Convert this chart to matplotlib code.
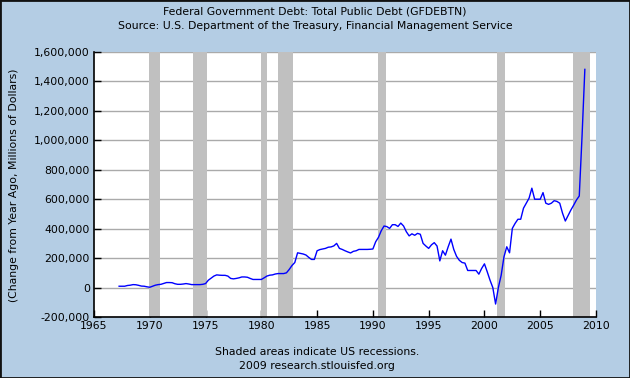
#!/usr/bin/env python3
"""FRED-style chart: change from year ago in total public debt (GFDEBTN)."""

import matplotlib
matplotlib.use("Agg")
import matplotlib.pyplot as plt
from matplotlib.patches import Rectangle
from matplotlib.ticker import FuncFormatter
import numpy as np

# Quarterly change from year ago, billions of dollars,
# first value 1967 Q2, last 2009 Q1
first_quarter = 1967.25
change_bn = [
    9, 9, 9,                       # 1967
    14, 16, 20, 19,                # 1968
    15, 10, 9, 5,                  # 1969
    2, 9, 16, 20,                  # 1970
    22, 28, 34, 34,                # 1971
    33, 26, 22, 22,                # 1972
    24, 27, 24, 20,                # 1973
    20, 20, 20, 22,                # 1974
    27, 50, 64, 78,                # 1975
    86, 84, 83, 83,                # 1976
    78, 62, 59, 62,                # 1977
    66, 72, 72, 70,                # 1978
    62, 55, 55, 55,                # 1979
    55, 66, 78, 84,                # 1980
    86, 92, 95, 95,                # 1981
    95, 100, 123, 150,             # 1982
    170, 236, 232, 228,            # 1983
    221, 205, 191, 191,            # 1984
    250, 258, 262, 266,            # 1985
    274, 276, 283, 300,            # 1986
    266, 259, 250, 242,            # 1987
    235, 246, 250, 259,            # 1988
    259, 259, 259, 260,            # 1989
    262, 311, 341, 386,            # 1990
    418, 414, 402, 427,            # 1991
    427, 415, 438, 418,            # 1992
    379, 351, 365, 355,            # 1993
    368, 362, 300, 282,            # 1994
    266, 290, 305, 282,            # 1995
    181, 250, 220, 277,            # 1996
    329, 259, 212, 185,            # 1997
    170, 166, 116, 116,            # 1998
    116, 116, 91, 130,             # 1999
    161, 107, 50, 0,               # 2000
    -112, 1, 84, 209,              # 2001
    277, 236, 402, 436,            # 2002
    464, 464, 539, 573,            # 2003
    607, 675, 600, 600,            # 2004
    600, 645, 573, 565,            # 2005
    573, 590, 585, 573,            # 2006
    505, 452, 490, 527,            # 2007
    560, 595, 622, 1030,           # 2008
    1482,                          # 2009
]

# NBER recessions (start, end) in decimal years
recessions = [
    (1969.92, 1970.88), (1973.83, 1975.17), (1980.0, 1980.5),
    (1981.5, 1982.88), (1990.5, 1991.17), (2001.17, 2001.88),
    (2007.92, 2009.42),
]

title_lines = ["Federal Government Debt: Total Public Debt (GFDEBTN)",
               "Source: U.S. Department of the Treasury, Financial Management Service"]
y_label = "(Change from Year Ago, Millions of Dollars)"
footer_lines = ["Shaded areas indicate US recessions.",
                "2009 research.stlouisfed.org"]

bg = "#b4cde4"
dates = first_quarter + 0.25 * np.arange(len(change_bn))
values = np.array(change_bn) * 1000

fig = plt.figure(figsize=(6.3, 3.78), dpi=100, facecolor=bg)
ax = fig.add_axes([94 / 630, 61 / 378, 502 / 630, 265 / 378])
ax.set_facecolor("white")

for start, end in recessions:
    ax.axvspan(start, end, color="#c0c0c0", lw=0, zorder=1)

ax.plot(dates, values, color="#0000ff", lw=1.0, zorder=3)

ax.set_xlim(1965, 2010)
ax.set_ylim(-200000, 1600000)
ax.set_xticks(np.arange(1965, 2011, 5))
ax.set_yticks(np.arange(-200000, 1600001, 200000))
ax.yaxis.set_major_formatter(FuncFormatter(lambda v, p: f"{int(v):,}"))
ax.grid(axis="y", color="#aaaaaa", lw=1, zorder=0)
ax.set_axisbelow(True)
ax.tick_params(direction="in", length=5, width=1, labelsize=7.8,
               colors="black", pad=3)
for side in ["top", "right"]:
    ax.spines[side].set_visible(False)
for side in ["left", "bottom"]:
    ax.spines[side].set_linewidth(1.2)

fig.text(14 / 630, 1 - 185 / 378, y_label, rotation=90, ha="center",
         va="center", fontsize=7.8)
fig.text(0.5, 1 - 12 / 378, title_lines[0], ha="center", va="center", fontsize=7.8)
fig.text(0.5, 1 - 26 / 378, title_lines[1], ha="center", va="center", fontsize=7.8)
fig.text(317 / 630, 1 - 352 / 378, footer_lines[0], ha="center", va="center", fontsize=7.8)
fig.text(317 / 630, 1 - 366 / 378, footer_lines[1], ha="center", va="center", fontsize=7.8)

# dark frame round the whole picture
fig.patches.append(Rectangle((0, 0), 1, 1, transform=fig.transFigure,
                             fill=False, edgecolor="#111111", lw=2))

fig.savefig("out.png", dpi=100, facecolor=bg)
